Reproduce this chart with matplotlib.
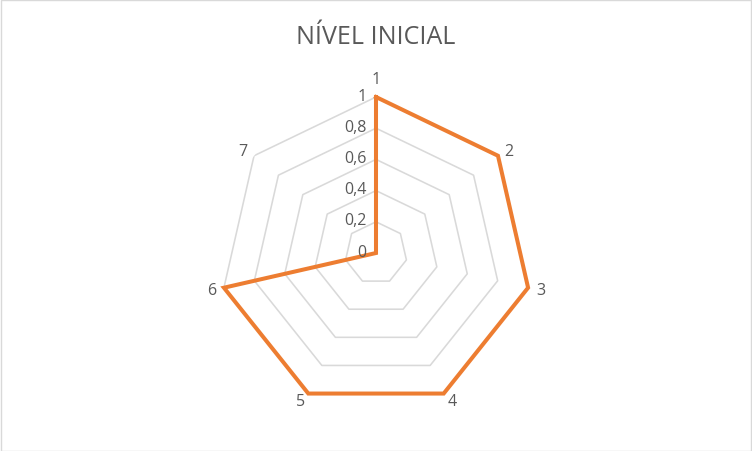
import numpy as np
import matplotlib
matplotlib.use("Agg")
import matplotlib.pyplot as plt

categories = ["1", "2", "3", "4", "5", "6", "7"]
values = [1, 1, 1, 1, 1, 1, 0]
levels = [0, 0.2, 0.4, 0.6, 0.8, 1.0]
level_labels = ["0", "0,2", "0,4", "0,6", "0,8", "1"]
title = "NÍVEL INICIAL"

plt.rcParams['font.family'] = ['Open Sans', 'DejaVu Sans']
text_color = '#595959'

fig = plt.figure(figsize=(7.52, 4.52), dpi=100)
fig.patch.set_facecolor('white')
# outer border
fig.add_artist(plt.Rectangle((0.5/752, 0.5/452), 1 - 1.5/752, 1 - 1.5/452, transform=fig.transFigure,
                             fill=False, edgecolor='#d9d9d9', linewidth=1))

ax = fig.add_axes([220/752, 42/452, 312/752, 312/452], projection='polar')
ax.set_theta_zero_location('N')
ax.set_theta_direction(-1)
ax.set_ylim(0, 1)
ax.grid(False)
ax.spines['polar'].set_visible(False)
ax.set_xticks([])
ax.set_yticks([])
ax.patch.set_alpha(0)

n = len(categories)
angles = np.linspace(0, 2*np.pi, n, endpoint=False)
closed = np.concatenate([angles, angles[:1]])

for lv in levels[1:]:
    ax.plot(closed, [lv]*(n+1), color='#d9d9d9', linewidth=1.15, zorder=1)

vals = list(values) + [values[0]]
ax.plot(closed, vals, color='#ED7D31', linewidth=2.9, solid_joinstyle='miter', zorder=3, clip_on=False)

for lv, lab in zip(levels, level_labels):
    ax.annotate(lab, xy=(0, lv), xytext=(-7, 1), textcoords='offset points',
                ha='right', va='center', fontsize=11.5, color=text_color)

for a, lab in zip(angles, categories):
    s, c = np.sin(a), np.cos(a)
    ha = 'left' if s > 0.1 else ('right' if s < -0.1 else 'center')
    va = 'bottom' if c > 0.9 else 'center'
    ax.annotate(lab, xy=(a, 1.0), xytext=(6*s, 6*c + (1 if c > 0.9 else 0)),
                textcoords='offset points', ha=ha, va=va, fontsize=11.5, color=text_color,
                annotation_clip=False)

fig.text(376/752, 1 - 37/452, title, ha='center', va='center', fontsize=18, color=text_color)

fig.savefig('out.png', dpi=100)
